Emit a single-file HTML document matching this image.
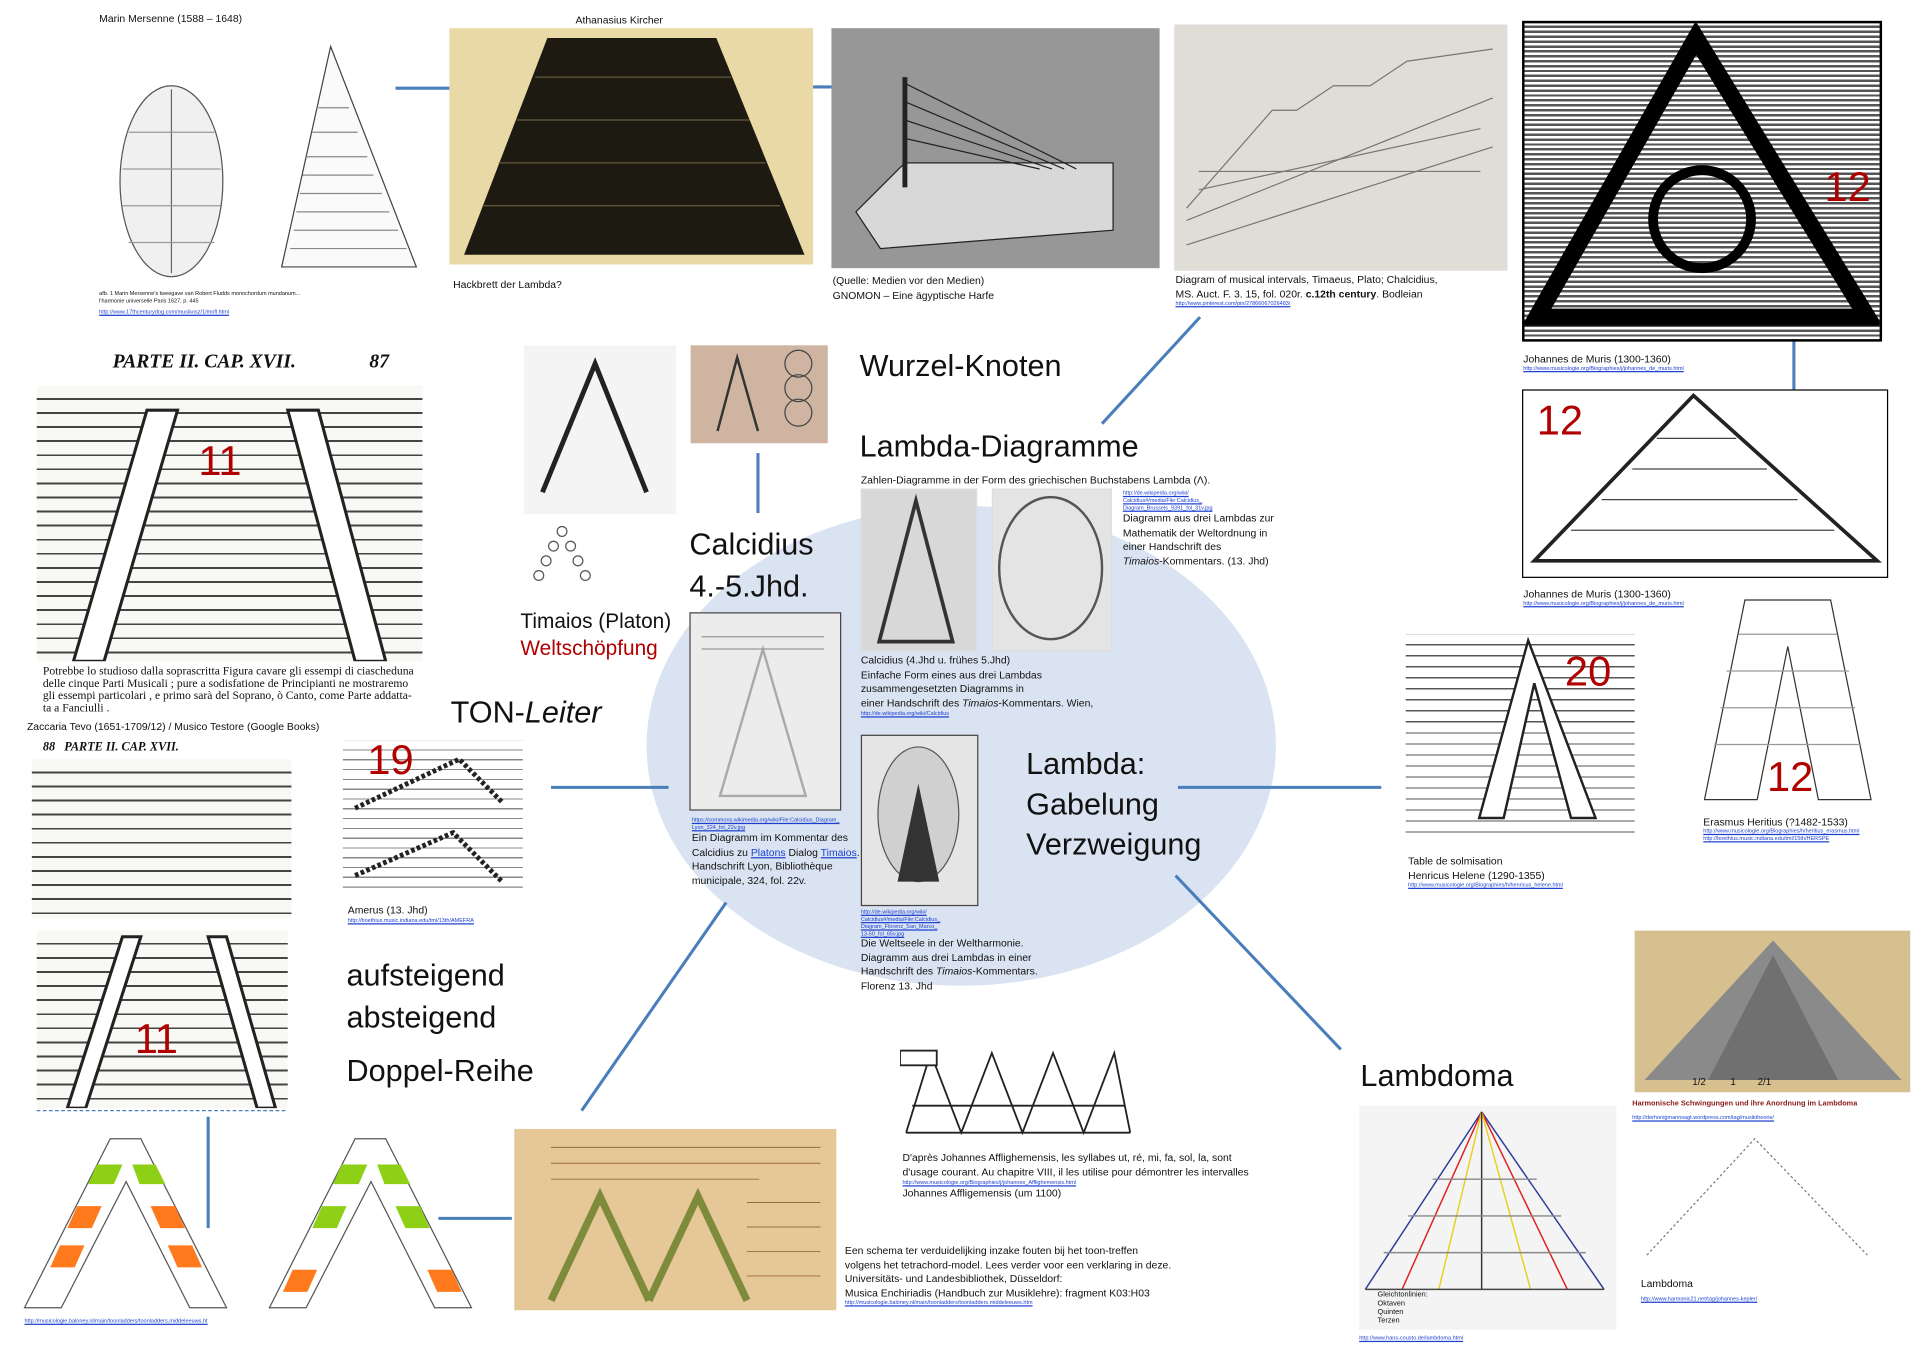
<!DOCTYPE html>
<html><head><meta charset="utf-8"><style>
html,body{margin:0;padding:0;background:#fff;overflow:hidden}
#w{position:absolute;left:0;top:0;width:1568px;height:1108px;transform:scale(1.2245);transform-origin:0 0;font-family:"Liberation Sans",sans-serif;color:#111}
.a{position:absolute}
.t{position:absolute;font-size:8.5px;line-height:11.5px;white-space:nowrap}
.l{position:absolute;font-size:4.5px;color:#1a3fd0;text-decoration:underline;white-space:nowrap}
.big{position:absolute;font-size:25px;line-height:34px;white-space:nowrap}
.red{color:#b00000}
.num{position:absolute;color:#b00000;font-size:34px}
.paper{position:absolute;background:#f3f0e8;border:1px solid #ddd}
.staff{background:repeating-linear-gradient(#f8f8f4 0,#f8f8f4 10px,#444 10px,#444 11.5px)}
</style></head><body><div id="w">
<div class="a" style="left:528px;top:413px;width:514px;height:392px;border-radius:50%;background:#dae3f1"></div>
<svg class="a" style="left:0;top:0" width="1568" height="1108"><g stroke="#4a7ebb" stroke-width="2.5" fill="none">
<line x1="323" y1="72" x2="420" y2="72"/><line x1="617" y1="71" x2="713" y2="71"/>
<line x1="980" y1="259" x2="900" y2="346"/><line x1="1465" y1="252" x2="1465" y2="346"/>
<line x1="619" y1="370" x2="619" y2="419"/><line x1="450" y1="643" x2="546" y2="643"/>
<line x1="962" y1="643" x2="1128" y2="643"/><line x1="960" y1="715" x2="1095" y2="857"/>
<line x1="593" y1="737" x2="475" y2="907"/><line x1="170" y1="912" x2="170" y2="1003"/>
<line x1="358" y1="995" x2="418" y2="995"/></g>
<line x1="30" y1="907" x2="235" y2="907" stroke="#4a7ebb" stroke-dasharray="3,2"/>
</svg>
<div class="t" style="left:81px;top:10px">Marin Mersenne (1588 – 1648)</div>
<svg class="a" style="left:80px;top:28px" width="270" height="200"><ellipse cx="60" cy="120" rx="42" ry="78" fill="#f0f0f0" stroke="#555"/><line x1="60" y1="45" x2="60" y2="195" stroke="#666"/><g stroke="#999"><line x1="25" y1="80" x2="95" y2="80"/><line x1="20" y1="110" x2="100" y2="110"/><line x1="20" y1="140" x2="100" y2="140"/><line x1="25" y1="170" x2="95" y2="170"/></g><polygon points="190,10 150,190 260,190" fill="#fafafa" stroke="#444"/><g stroke="#888"><line x1="180" y1="60" x2="205" y2="60"/><line x1="175" y1="80" x2="212" y2="80"/><line x1="170" y1="100" x2="220" y2="100"/><line x1="167" y1="115" x2="225" y2="115"/><line x1="165" y1="130" x2="232" y2="130"/><line x1="162" y1="145" x2="238" y2="145"/><line x1="160" y1="160" x2="245" y2="160"/><line x1="157" y1="175" x2="252" y2="175"/></g></svg>
<div class="t" style="left:81px;top:237px;font-size:4.5px;line-height:6px">afb. 1 Marin Mersenne's tweegave van Robert Fludds monochordum mundanum...<br>l'harmonie universelle Paris 1627, p. 445</div>
<div class="l" style="left:81px;top:252px">http://www.17thcenturydog.com/musikosz/1/mofl.html</div>
<div class="t" style="left:470px;top:11px">Athanasius Kircher</div>
<div class="a" style="left:367px;top:23px;width:297px;height:193px;background:#e9d9a6"></div>
<svg class="a" style="left:367px;top:23px" width="297" height="193"><polygon points="80,8 218,8 290,185 12,185" fill="#1d1a12"/><g stroke="#776b45" stroke-width="0.8"><line x1="70" y1="40" x2="230" y2="40"/><line x1="55" y1="75" x2="245" y2="75"/><line x1="40" y1="110" x2="258" y2="110"/><line x1="28" y1="145" x2="270" y2="145"/></g></svg>
<div class="t" style="left:370px;top:227px">Hackbrett der Lambda?</div>
<div class="a" style="left:679px;top:23px;width:268px;height:196px;background:#979797"></div>
<svg class="a" style="left:679px;top:23px" width="268" height="196"><polygon points="20,150 60,110 230,110 230,165 40,180" fill="#d8d8d8" stroke="#222"/><line x1="60" y1="40" x2="60" y2="130" stroke="#222" stroke-width="4"/><g stroke="#222"><line x1="60" y1="45" x2="200" y2="115"/><line x1="60" y1="60" x2="190" y2="115"/><line x1="60" y1="75" x2="180" y2="115"/><line x1="60" y1="90" x2="170" y2="115"/></g></svg>
<div class="t" style="left:680px;top:224px">(Quelle: Medien vor den Medien)<br>GNOMON – Eine ägyptische Harfe</div>
<div class="paper" style="left:959px;top:20px;width:270px;height:199px;background:#e0ddd6"></div>
<svg class="a" style="left:959px;top:20px" width="270" height="199"><g stroke="#777" fill="none"><polyline points="10,150 80,70 100,70 130,50 160,50 190,30 260,20"/><polyline points="10,160 260,60"/><polyline points="10,180 260,100"/><line x1="20" y1="120" x2="250" y2="120"/><line x1="20" y1="135" x2="250" y2="85"/></g></svg>
<div class="t" style="left:960px;top:223px">Diagram of musical intervals, Timaeus, Plato; Chalcidius,<br>MS. Auct. F. 3. 15, fol. 020r. <b>c.12th century</b>. Bodleian</div>
<div class="l" style="left:960px;top:245px">http://www.pinterest.com/pin/27866067026483/</div>
<div class="a" style="left:1243px;top:17px;width:290px;height:258px;border:2px solid #000;background:repeating-linear-gradient(#fff 0,#fff 2px,#555 2px,#555 4px)"></div>
<svg class="a" style="left:1245px;top:19px" width="290" height="258"><polygon points="140,12 10,240 280,240" fill="none" stroke="#000" stroke-width="14"/><circle cx="145" cy="160" r="40" fill="none" stroke="#000" stroke-width="8"/></svg>
<div class="num" style="left:1490px;top:134px">12</div>
<div class="t" style="left:1244px;top:288px">Johannes de Muris (1300-1360)</div>
<div class="l" style="left:1244px;top:298px">http://www.musicologie.org/Biographies/j/johannes_de_muris.html</div>
<div class="a" style="left:1243px;top:318px;width:297px;height:152px;border:1px solid #000;background:#fff"></div>
<svg class="a" style="left:1243px;top:318px" width="297" height="152"><polygon points="140,5 10,140 290,140" fill="none" stroke="#222" stroke-width="3"/><g stroke="#444"><line x1="110" y1="40" x2="175" y2="40"/><line x1="90" y1="65" x2="200" y2="65"/><line x1="65" y1="90" x2="225" y2="90"/><line x1="40" y1="115" x2="255" y2="115"/></g></svg>
<div class="num" style="left:1255px;top:325px">12</div>
<div class="t" style="left:1244px;top:480px">Johannes de Muris (1300-1360)</div>
<div class="l" style="left:1244px;top:490px">http://www.musicologie.org/Biographies/j/johannes_de_muris.html</div>
<div class="t" style="left:92px;top:290px;font-family:'Liberation Serif',serif;font-size:16px;font-style:italic;font-weight:bold">PARTE II. CAP. XVII. &nbsp;&nbsp;&nbsp;&nbsp;&nbsp;&nbsp;&nbsp;&nbsp;&nbsp;&nbsp;&nbsp;&nbsp;&nbsp;&nbsp;87</div>
<div class="a staff" style="left:30px;top:315px;width:315px;height:225px"></div>
<svg class="a" style="left:30px;top:315px" width="315" height="225"><g fill="#fff" stroke="#222" stroke-width="2.5"><polygon points="90,20 115,20 55,225 30,225"/><polygon points="205,20 230,20 285,225 260,225"/></g></svg>
<div class="num" style="left:162px;top:358px">11</div>
<div class="t" style="left:35px;top:544px;font-family:'Liberation Serif',serif;font-size:9.5px;line-height:10px">Potrebbe lo studioso dalla soprascritta Figura cavare gli essempi di ciascheduna<br>delle cinque Parti Musicali ; pure a sodisfatione de Principianti ne mostraremo<br>gli essempi particolari , e primo sarà del Soprano, ò Canto, come Parte addatta-<br>ta a Fanciulli .</div>
<div class="t" style="left:22px;top:588px">Zaccaria Tevo (1651-1709/12) / Musico Testore (Google Books)</div>
<div class="t" style="left:35px;top:605px;font-family:'Liberation Serif',serif;font-size:10px;font-style:italic;font-weight:bold">88 &nbsp;&nbsp;PARTE II. CAP. XVII.</div>
<div class="a staff" style="left:26px;top:620px;width:212px;height:130px"></div>
<div class="a staff" style="left:30px;top:760px;width:205px;height:145px"></div>
<svg class="a" style="left:30px;top:760px" width="205" height="145"><g fill="#fff" stroke="#222" stroke-width="2.5"><polygon points="70,5 85,5 40,145 25,145"/><polygon points="140,5 155,5 195,145 180,145"/></g></svg>
<div class="num" style="left:110px;top:830px">11</div>
<div class="a" style="left:280px;top:605px;width:147px;height:120px;background:repeating-linear-gradient(#fff 0,#fff 7px,#888 7px,#888 8px)"></div>
<svg class="a" style="left:280px;top:605px" width="147" height="120"><polyline points="10,55 95,15 130,50" stroke="#222" stroke-width="4" fill="none" stroke-dasharray="3,2"/><polyline points="10,110 90,75 130,115" stroke="#222" stroke-width="4" fill="none" stroke-dasharray="3,2"/></svg>
<div class="num" style="left:300px;top:602px">19</div>
<div class="t" style="left:284px;top:738px">Amerus (13. Jhd)</div>
<div class="l" style="left:284px;top:749px">http://boethius.music.indiana.edu/tml/13th/AMEFRA</div>
<div class="big" style="left:283px;top:780px">aufsteigend<br>absteigend</div>
<div class="big" style="left:283px;top:858px">Doppel-Reihe</div>
<div class="big" style="left:368px;top:565px">TON-<i>Leiter</i></div>
<div class="big" style="left:563px;top:428px">Calcidius<br>4.-5.Jhd.</div>
<div class="big" style="left:702px;top:282px">Wurzel-Knoten</div>
<div class="big" style="left:702px;top:348px">Lambda-Diagramme</div>
<div class="big" style="left:838px;top:608px;line-height:33px">Lambda:<br>Gabelung<br>Verzweigung</div>
<div class="big" style="left:1111px;top:862px">Lambdoma</div>
<div class="t" style="left:425px;top:497px;font-size:17px;line-height:22px">Timaios (Platon)<br><span class="red">Weltschöpfung</span></div>
<div class="paper" style="left:428px;top:282px;width:124px;height:138px;background:#f4f4f4;border:none"></div>
<svg class="a" style="left:428px;top:282px" width="124" height="138"><polyline points="15,120 58,15 100,120" fill="none" stroke="#222" stroke-width="4"/></svg>
<svg class="a" style="left:432px;top:428px" width="55" height="48"><g fill="#fff" stroke="#555"><circle cx="27" cy="6" r="4"/><circle cx="20" cy="18" r="4"/><circle cx="34" cy="18" r="4"/><circle cx="14" cy="30" r="4"/><circle cx="40" cy="30" r="4"/><circle cx="8" cy="42" r="4"/><circle cx="46" cy="42" r="4"/></g></svg>
<div class="a" style="left:564px;top:282px;width:112px;height:80px;background:#cfb5a1"></div>
<svg class="a" style="left:564px;top:282px" width="112" height="80"><polyline points="22,70 38,10 55,70" fill="none" stroke="#333" stroke-width="2"/><g fill="none" stroke="#444"><circle cx="88" cy="15" r="11"/><circle cx="88" cy="35" r="11"/><circle cx="88" cy="55" r="11"/></g></svg>
<div class="t" style="left:703px;top:387px">Zahlen-Diagramme in der Form des griechischen Buchstabens Lambda (Λ).</div>
<div class="paper" style="left:703px;top:399px;width:93px;height:131px;background:#d8d8d8"></div>
<svg class="a" style="left:703px;top:399px" width="93" height="131"><polygon points="45,10 15,125 75,125" fill="none" stroke="#333" stroke-width="3"/></svg>
<div class="paper" style="left:810px;top:399px;width:96px;height:131px;background:#e4e4e4"></div>
<svg class="a" style="left:810px;top:399px" width="96" height="131"><ellipse cx="48" cy="65" rx="42" ry="58" fill="none" stroke="#555" stroke-width="2"/></svg>
<div class="l" style="left:917px;top:400px;line-height:6px">http://de.wikipedia.org/wiki/<br>Calcidius#/media/File:Calcidius_<br>Diagram_Brussels_9391_fol_31v.jpg</div>
<div class="t" style="left:917px;top:418px">Diagramm aus drei Lambdas zur<br>Mathematik der Weltordnung in<br>einer Handschrift des<br><i>Timaios</i>-Kommentars. (13. Jhd)</div>
<div class="t" style="left:703px;top:534px">Calcidius (4.Jhd u. frühes 5.Jhd)<br>Einfache Form eines aus drei Lambdas<br>zusammengesetzten Diagramms in<br>einer Handschrift des <i>Timaios</i>-Kommentars. Wien,</div>
<div class="l" style="left:703px;top:580px">http://de.wikipedia.org/wiki/Calcidius</div>
<div class="paper" style="left:563px;top:500px;width:122px;height:160px;background:#ececec;border-color:#444"></div>
<svg class="a" style="left:563px;top:500px" width="122" height="160"><polygon points="60,30 25,150 95,150" fill="none" stroke="#aaa" stroke-width="2"/><g stroke="#999"><line x1="10" y1="20" x2="110" y2="20"/><line x1="10" y1="30" x2="110" y2="30"/></g></svg>
<div class="l" style="left:565px;top:667px;line-height:6px">https://commons.wikimedia.org/wiki/File:Calcidius_Diagram_<br>Lyon_324_fol_22v.jpg</div>
<div class="t" style="left:565px;top:679px">Ein Diagramm im Kommentar des<br>Calcidius zu <span style="color:#1a3fd0;text-decoration:underline">Platons</span> Dialog <span style="color:#1a3fd0;text-decoration:underline">Timaios</span>.<br>Handschrift Lyon, Bibliothèque<br>municipale, 324, fol. 22v.</div>
<div class="paper" style="left:703px;top:600px;width:94px;height:138px;background:#e5e5e5;border-color:#444"></div>
<svg class="a" style="left:703px;top:600px" width="94" height="138"><ellipse cx="47" cy="65" rx="33" ry="55" fill="#d0d0d0" stroke="#555"/><polygon points="47,40 30,120 64,120" fill="#333"/></svg>
<div class="l" style="left:703px;top:742px;line-height:6px">http://de.wikipedia.org/wiki/<br>Calcidius#/media/File:Calcidius_<br>Diagram_Florenz_San_Marco_<br>13-50_fol_65v.jpg</div>
<div class="t" style="left:703px;top:765px">Die Weltseele in der Weltharmonie.<br>Diagramm aus drei Lambdas in einer<br>Handschrift des <i>Timaios</i>-Kommentars.<br>Florenz 13. Jhd</div>
<div class="a" style="left:1148px;top:518px;width:187px;height:170px;background:repeating-linear-gradient(#fff 0,#fff 8px,#555 8px,#555 9px)"></div>
<svg class="a" style="left:1148px;top:518px" width="187" height="170"><polygon points="100,5 60,150 80,150 105,40 135,150 155,150" fill="#fff" stroke="#222" stroke-width="2"/></svg>
<div class="num" style="left:1278px;top:530px">20</div>
<div class="t" style="left:1150px;top:698px">Table de solmisation<br>Henricus Helene (1290-1355)</div>
<div class="l" style="left:1150px;top:720px">http://www.musicologie.org/Biographies/h/henricus_helene.html</div>
<svg class="a" style="left:1390px;top:488px" width="140" height="170"><polygon points="35,2 105,2 138,165 95,165 70,40 45,165 2,165" fill="#fff" stroke="#333"/><g stroke="#999"><line x1="30" y1="30" x2="110" y2="30"/><line x1="20" y1="60" x2="120" y2="60"/><line x1="15" y1="90" x2="125" y2="90"/><line x1="10" y1="120" x2="130" y2="120"/></g></svg>
<div class="num" style="left:1443px;top:616px">12</div>
<div class="t" style="left:1391px;top:666px">Erasmus Heritius (?1482-1533)</div>
<div class="l" style="left:1391px;top:676px;line-height:6px">http://www.musicologie.org/Biographies/h/heritius_erasmus.html<br>http://boethius.music.indiana.edu/tml/15th/HERSPE</div>
<div class="a" style="left:1335px;top:760px;width:225px;height:132px;background:#d6c08f"></div>
<svg class="a" style="left:1335px;top:760px" width="225" height="132"><polygon points="113,8 8,122 218,122" fill="#8a8a8a"/><polygon points="113,20 60,122 166,122" fill="#555" opacity=".5"/></svg>
<div class="t" style="left:1382px;top:878px;font-size:8px">1/2 &nbsp;&nbsp;&nbsp;&nbsp;&nbsp;&nbsp;&nbsp;&nbsp;1 &nbsp;&nbsp;&nbsp;&nbsp;&nbsp;&nbsp;&nbsp;2/1</div>
<div class="t" style="left:1333px;top:897px;font-size:6px;color:#8a1a1a;font-weight:bold">Harmonische Schwingungen und ihre Anordnung im Lambdoma</div>
<div class="l" style="left:1333px;top:910px">http://derhonigmannsagt.wordpress.com/tag/musiktheorie/</div>
<svg class="a" style="left:1335px;top:925px" width="200" height="105"><polyline points="10,100 98,5 190,100" fill="none" stroke="#777" stroke-dasharray="2,2"/></svg>
<div class="t" style="left:1340px;top:1043px">Lambdoma</div>
<div class="l" style="left:1340px;top:1058px">http://www.harmonic21.net/tag/johannes-kepler/</div>
<div class="a" style="left:1110px;top:903px;width:210px;height:183px;background:#f4f4f4"></div>
<svg class="a" style="left:1110px;top:903px" width="210" height="183"><g stroke-width="1.2"><line x1="100" y1="5" x2="5" y2="150" stroke="#2b3c9c"/><line x1="100" y1="5" x2="200" y2="150" stroke="#2b3c9c"/><line x1="100" y1="5" x2="35" y2="150" stroke="#e02020"/><line x1="100" y1="5" x2="170" y2="150" stroke="#e02020"/><line x1="100" y1="5" x2="65" y2="150" stroke="#e8d020"/><line x1="100" y1="5" x2="140" y2="150" stroke="#e8d020"/><line x1="100" y1="5" x2="100" y2="150" stroke="#333"/><line x1="5" y1="150" x2="200" y2="150" stroke="#444"/><line x1="20" y1="120" x2="185" y2="120" stroke="#888"/><line x1="40" y1="90" x2="165" y2="90" stroke="#888"/><line x1="60" y1="60" x2="145" y2="60" stroke="#888"/></g></svg>
<div class="t" style="left:1125px;top:1055px;font-size:6px;line-height:7px">Gleichtonlinien:<br>Oktaven<br>Quinten<br>Terzen</div>
<div class="l" style="left:1110px;top:1090px">http://www.hans-cousto.de/lambdoma.html</div>
<svg class="a" style="left:735px;top:855px" width="190" height="78"><g fill="#fff" stroke="#222" stroke-width="1.5"><polyline points="5,70 25,5 50,70 75,5 100,70 125,5 150,70 175,5 188,70"/><line x1="5" y1="70" x2="188" y2="70"/><line x1="10" y1="48" x2="183" y2="48"/><rect x="0" y="3" width="30" height="12"/></g></svg>
<div class="t" style="left:737px;top:940px">D'après Johannes Afflighemensis, les syllabes ut, ré, mi, fa, sol, la, sont<br>d'usage courant. Au chapitre VIII, il les utilise pour démontrer les intervalles</div>
<div class="l" style="left:737px;top:963px">http://www.musicologie.org/Biographies/j/johannes_Afflighemensis.html</div>
<div class="t" style="left:737px;top:969px">Johannes Affligemensis (um 1100)</div>
<div class="a" style="left:420px;top:922px;width:263px;height:148px;background:#e5c798"></div>
<svg class="a" style="left:420px;top:922px" width="263" height="148"><g stroke="#9b6b40" stroke-width=".8"><line x1="30" y1="15" x2="250" y2="15"/><line x1="30" y1="28" x2="250" y2="28"/><line x1="30" y1="41" x2="200" y2="41"/><line x1="190" y1="60" x2="250" y2="60"/><line x1="190" y1="80" x2="250" y2="80"/><line x1="190" y1="100" x2="250" y2="100"/><line x1="190" y1="120" x2="250" y2="120"/></g><polyline points="30,140 70,55 110,140" fill="none" stroke="#7d8b3a" stroke-width="6"/><polyline points="110,140 150,55 190,140" fill="none" stroke="#7d8b3a" stroke-width="6"/></svg>
<div class="t" style="left:690px;top:1016px">Een schema ter verduidelijking inzake fouten bij het toon-treffen<br>volgens het tetrachord-model. Lees verder voor een verklaring in deze.<br>Universitäts- und Landesbibliothek, Düsseldorf:<br>Musica Enchiriadis (Handbuch zur Musiklehre): fragment K03:H03</div>
<div class="l" style="left:690px;top:1061px">http://musicologie.baloney.nl/main/toonladders/toonladders.middeleeuws.htm</div>
<svg class="a" style="left:15px;top:925px" width="380" height="150">
<g><polygon points="75,5 100,5 170,143 140,143 88,40 35,143 5,143" fill="#fff" stroke="#555"/>
<polygon points="64,26 85,26 78,42 57,42" fill="#8ed016"/><polygon points="93,26 112,26 120,42 99,42" fill="#8ed016"/>
<polygon points="48,60 68,60 60,78 40,78" fill="#ff7a1c"/><polygon points="108,60 128,60 136,78 116,78" fill="#ff7a1c"/>
<polygon points="34,92 54,92 46,110 26,110" fill="#ff7a1c"/><polygon points="122,92 142,92 150,110 130,110" fill="#ff7a1c"/></g>
<g transform="translate(200,0)"><polygon points="75,5 100,5 170,143 140,143 88,40 35,143 5,143" fill="#fff" stroke="#555"/>
<polygon points="64,26 85,26 78,42 57,42" fill="#8ed016"/><polygon points="93,26 112,26 120,42 99,42" fill="#8ed016"/>
<polygon points="48,60 68,60 60,78 40,78" fill="#8ed016"/><polygon points="108,60 128,60 136,78 116,78" fill="#8ed016"/>
<polygon points="24,112 44,112 36,130 16,130" fill="#ff7a1c"/><polygon points="134,112 154,112 162,130 142,130" fill="#ff7a1c"/></g>
</svg>
<div class="l" style="left:20px;top:1076px">http://musicologie.baloney.nl/main/toonladders/toonladders.middeleeuws.ht</div>
</div></body></html>
